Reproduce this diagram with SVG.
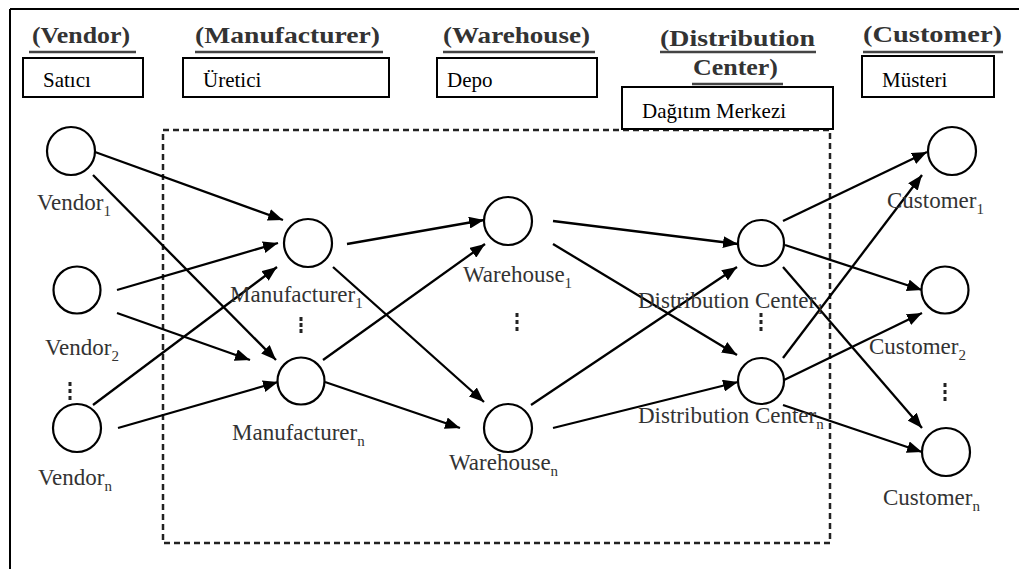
<svg xmlns="http://www.w3.org/2000/svg" width="1019" height="569" viewBox="0 0 1019 569">
<style>
.hdr{font-family:"Liberation Serif",serif;font-weight:bold;font-size:24px;fill:#333}
.ul{stroke:#444;stroke-width:2.5}
.box{fill:#fff;stroke:#000;stroke-width:2}
.btx{font-family:"Liberation Serif",serif;font-size:21px;fill:#000}
.lbl{font-family:"Liberation Serif",serif;font-size:23px;fill:#333}
.sub{font-size:15px}
.nd{fill:#fff;stroke:#000;stroke-width:2.2}
.cn{stroke:#000;stroke-width:2.3;fill:none;marker-end:url(#ah)}
.dot{fill:#222}
</style>
<defs>
<marker id="ah" markerUnits="userSpaceOnUse" markerWidth="16" markerHeight="12" refX="15" refY="6" orient="auto">
<path d="M0,0 L15,6 L0,12 z" fill="#000"/>
</marker>
</defs>
<rect x="0" y="0" width="1019" height="569" fill="#fff"/>
<path d="M10,9 H1019 M10,9 V569" stroke="#000" stroke-width="2" fill="none"/>
<rect x="163" y="130" width="667" height="413" fill="none" stroke="#222" stroke-width="2.5" stroke-dasharray="6 4"/>

<g id="headers">
<text class="hdr" x="32" y="43" textLength="98" lengthAdjust="spacingAndGlyphs">(Vendor)</text>
<text class="hdr" x="195" y="43" textLength="185" lengthAdjust="spacingAndGlyphs">(Manufacturer)</text>
<text class="hdr" x="443" y="43" textLength="147" lengthAdjust="spacingAndGlyphs">(Warehouse)</text>
<text class="hdr" x="660" y="46" textLength="155" lengthAdjust="spacingAndGlyphs">(Distribution</text>
<text class="hdr" x="693" y="75" textLength="85" lengthAdjust="spacingAndGlyphs">Center)</text>
<text class="hdr" x="863" y="42" textLength="139" lengthAdjust="spacingAndGlyphs">(Customer)</text>
<path class="ul" d="M29,52 H136 M195,52 H383 M443,52 H595 M660,52 H816 M863,52 H1003 M692,84 H783"/>
</g>

<g id="box-satici"><rect class="box" x="23" y="58" width="120" height="39"/><text class="btx" x="43" y="87">Satıcı</text></g>
<g id="box-uretici"><rect class="box" x="183" y="58" width="206" height="39"/><text class="btx" x="203" y="87">Üretici</text></g>
<g id="box-depo"><rect class="box" x="437" y="58" width="160" height="39"/><text class="btx" x="447" y="87">Depo</text></g>
<g id="box-dagitim"><rect class="box" x="622" y="87" width="211" height="42"/><text class="btx" x="642" y="118">Dağıtım Merkezi</text></g>
<g id="box-musteri"><rect class="box" x="862" y="56" width="132" height="41"/><text class="btx" x="882" y="87">Müsteri</text></g>

<g id="connectors">
<line class="cn" x1="95" y1="152" x2="283" y2="220"/>
<line class="cn" x1="93" y1="175" x2="276" y2="360"/>
<line class="cn" x1="117" y1="290" x2="278" y2="243"/>
<line class="cn" x1="117" y1="313" x2="250" y2="360"/>
<line class="cn" x1="93" y1="405" x2="277" y2="267"/>
<line class="cn" x1="118" y1="428" x2="278" y2="382"/>
<line class="cn" x1="347" y1="244" x2="484" y2="220"/>
<line class="cn" x1="333" y1="267" x2="484" y2="402"/>
<line class="cn" x1="323" y1="360" x2="485" y2="244"/>
<line class="cn" x1="325" y1="382" x2="460" y2="428"/>
<line class="cn" x1="553" y1="221" x2="738" y2="244"/>
<line class="cn" x1="553" y1="244" x2="737" y2="355"/>
<line class="cn" x1="531" y1="405" x2="737" y2="267"/>
<line class="cn" x1="553" y1="428" x2="738" y2="382"/>
<line class="cn" x1="783" y1="221" x2="927" y2="152"/>
<line class="cn" x1="785" y1="245" x2="922" y2="290"/>
<line class="cn" x1="783" y1="267" x2="922" y2="428"/>
<line class="cn" x1="783" y1="358" x2="922" y2="175"/>
<line class="cn" x1="784" y1="380" x2="922" y2="313"/>
<line class="cn" x1="783" y1="405" x2="922" y2="452"/>
</g>

<g id="vendor1"><circle class="nd" cx="71" cy="151" r="24"/><text class="lbl" x="37" y="210">Vendor<tspan class="sub" dy="6">1</tspan></text></g>
<g id="vendor2"><circle class="nd" cx="77" cy="290" r="23.5"/><text class="lbl" x="45" y="355">Vendor<tspan class="sub" dy="6">2</tspan></text></g>
<g id="vendorn"><circle class="nd" cx="77" cy="428" r="24"/><text class="lbl" x="38" y="485">Vendor<tspan class="sub" dy="6">n</tspan></text>
<rect class="dot" x="68.5" y="382" width="3" height="4"/><rect class="dot" x="68.5" y="389" width="3" height="4"/><rect class="dot" x="68.5" y="396" width="3" height="4"/></g>

<g id="manufacturer1"><circle class="nd" cx="308" cy="243" r="24"/><text class="lbl" x="230" y="302">Manufacturer<tspan class="sub" dy="6">1</tspan></text></g>
<g id="manufacturern"><circle class="nd" cx="301" cy="381" r="23.5"/><text class="lbl" x="232" y="440">Manufacturer<tspan class="sub" dy="6">n</tspan></text>
<rect class="dot" x="299.5" y="317" width="3" height="4"/><rect class="dot" x="299.5" y="323" width="3" height="4"/><rect class="dot" x="299.5" y="329" width="3" height="4"/></g>

<g id="warehouse1"><circle class="nd" cx="508" cy="221" r="24"/><text class="lbl" x="463" y="282">Warehouse<tspan class="sub" dy="6">1</tspan></text></g>
<g id="warehousen"><circle class="nd" cx="508" cy="428" r="24"/><text class="lbl" x="449" y="470">Warehouse<tspan class="sub" dy="6">n</tspan></text>
<rect class="dot" x="515.5" y="313" width="3" height="4"/><rect class="dot" x="515.5" y="320" width="3" height="4"/><rect class="dot" x="515.5" y="327" width="3" height="4"/></g>

<g id="dc1"><circle class="nd" cx="761" cy="243" r="23"/><text class="lbl" x="638" y="308">Distribution Center<tspan class="sub" dy="6">1</tspan></text></g>
<g id="dcn"><circle class="nd" cx="761" cy="381" r="23"/><text class="lbl" x="638" y="423">Distribution Center<tspan class="sub" dy="6">n</tspan></text>
<rect class="dot" x="759.5" y="313" width="3" height="4"/><rect class="dot" x="759.5" y="320" width="3" height="4"/><rect class="dot" x="759.5" y="327" width="3" height="4"/></g>

<g id="customer1"><circle class="nd" cx="952" cy="151" r="24"/><text class="lbl" x="887" y="208">Customer<tspan class="sub" dy="6">1</tspan></text></g>
<g id="customer2"><circle class="nd" cx="945" cy="290" r="23.5"/><text class="lbl" x="869" y="354">Customer<tspan class="sub" dy="6">2</tspan></text></g>
<g id="customern"><circle class="nd" cx="946" cy="452" r="24"/><text class="lbl" x="883" y="505">Customer<tspan class="sub" dy="6">n</tspan></text>
<rect class="dot" x="943.5" y="383" width="3" height="4"/><rect class="dot" x="943.5" y="390" width="3" height="4"/><rect class="dot" x="943.5" y="397" width="3" height="4"/></g>
</svg>
